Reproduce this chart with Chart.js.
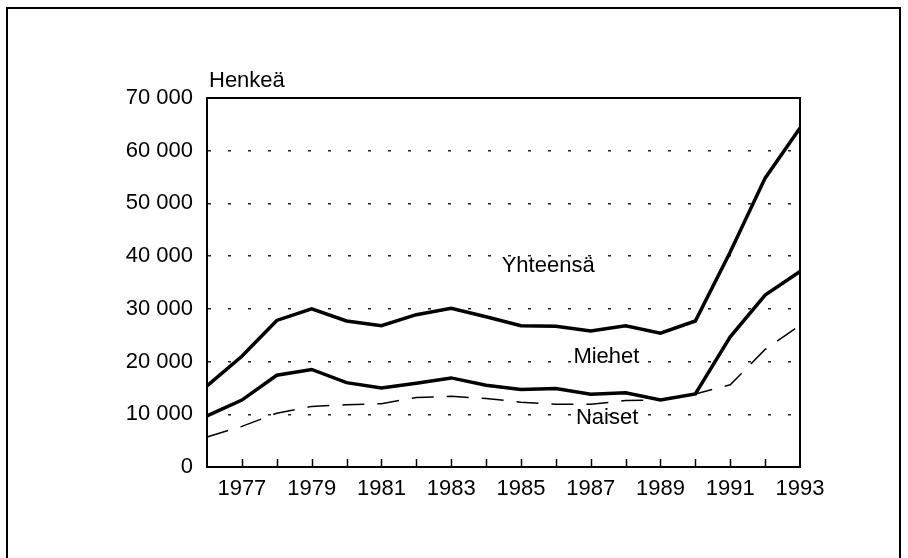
<!DOCTYPE html>
<html>
<head>
<meta charset="utf-8">
<script src="https://cdn.jsdelivr.net/npm/chart.js@4"></script>
<style>
  html, body { margin: 0; padding: 0; background: #fff; }
  #wrap { width: 908px; height: 558px; }
</style>
</head>
<body>
<div id="wrap"><canvas id="tyottomat"></canvas></div>
<script>
var years = ['1976', '1977', '1978', '1979', '1980', '1981', '1982', '1983', '1984',
             '1985', '1986', '1987', '1988', '1989', '1990', '1991', '1992', '1993'];
var yhteensa = [15400, 21000, 27800, 30000, 27700, 26800, 28900, 30100, 28500,
                26800, 26700, 25800, 26800, 25400, 27700, 40800, 54800, 64300];
var miehet = [9700, 12700, 17400, 18500, 16000, 15000, 15900, 16900, 15500,
              14700, 14900, 13800, 14100, 12700, 13850, 24700, 32600, 37100];
var naiset = [5700, 7700, 10200, 11500, 11800, 12000, 13200, 13400, 13000,
              12300, 11900, 11900, 12600, 12700, 13850, 15600, 22300, 26900];
var yTicks = [0, 10000, 20000, 30000, 40000, 50000, 60000, 70000];

// series names written into the plot, at [year index, value]
var seriesNames = ['Yhteensä', 'Miehet', 'Naiset'];
var namePos = [[9.78, 38100], [11.45, 20900], [11.47, 9300]];

var FONT = "'Liberation Sans', Arial, sans-serif";

function fmt(v) {
  return String(v).replace(/\B(?=(\d{3})+(?!\d))/g, ' ');
}

var decor = {
  id: 'decor',
  beforeDraw: function(chart) {
    var c = chart.ctx;
    c.save();
    c.strokeStyle = '#000';
    c.lineWidth = 2;
    c.strokeRect(7, 8, 893, 620);
    c.restore();
  },
  afterDraw: function(chart) {
    var c = chart.ctx, a = chart.chartArea, xs = chart.scales.x, ys = chart.scales.y;
    c.save();
    // top and right frame of the plot
    c.strokeStyle = '#000';
    c.lineWidth = 2;
    c.beginPath();
    c.moveTo(a.left, a.top);
    c.lineTo(a.right, a.top);
    c.lineTo(a.right, a.bottom);
    c.stroke();
    // small inward ticks on the year axis
    c.lineWidth = 1.5;
    for (var i = 1; i < years.length - 1; i++) {
      var px = Math.round(xs.getPixelForValue(i)) + 0.5;
      c.beginPath();
      c.moveTo(px, a.bottom);
      c.lineTo(px, a.bottom - 8);
      c.stroke();
    }
    c.fillStyle = '#000';
    c.font = '22px ' + FONT;
    c.textBaseline = 'middle';
    c.textAlign = 'left';
    c.fillText('Henkeä', a.left + 2, a.top - 17);
    c.textAlign = 'center';
    for (var k = 0; k < seriesNames.length; k++) {
      c.fillText(seriesNames[k], xs.getPixelForValue(namePos[k][0]), ys.getPixelForValue(namePos[k][1]));
    }
    c.restore();
  }
};

new Chart(document.getElementById('tyottomat').getContext('2d'), {
  type: 'line',
  data: {
    labels: years,
    datasets: [
      { label: 'Yhteensä', data: yhteensa, borderColor: '#000', borderWidth: 3.5,
        pointRadius: 0, tension: 0, fill: false },
      { label: 'Miehet', data: miehet, borderColor: '#000', borderWidth: 3.5,
        pointRadius: 0, tension: 0, fill: false },
      { label: 'Naiset', data: naiset, borderColor: '#000', borderWidth: 1.5,
        borderDash: [22, 13], pointRadius: 0, tension: 0, fill: false }
    ]
  },
  options: {
    responsive: true,
    maintainAspectRatio: false,
    animation: false,
    layout: { padding: { left: 0, top: 98, right: 108, bottom: 0 } },
    plugins: { legend: { display: false }, tooltip: { enabled: false } },
    scales: {
      x: {
        type: 'category',
        offset: false,
        afterFit: function(s) { s.height = 91; },
        grid: { display: false, drawTicks: false },
        border: { display: true, color: '#000', width: 2 },
        ticks: {
          autoSkip: false,
          maxRotation: 0,
          padding: 9,
          color: '#000',
          font: { family: FONT, size: 22 },
          callback: function(v, i) { return (i % 2 === 1) ? years[i] : ''; }
        }
      },
      y: {
        min: 0,
        max: 70000,
        afterFit: function(s) { s.width = 207; },
        afterBuildTicks: function(s) { s.ticks = yTicks.map(function(v) { return { value: v }; }); },
        grid: {
          drawTicks: false,
          color: function(ctx) {
            var v = ctx.tick ? ctx.tick.value : 0;
            return (v === 0 || v === 70000) ? 'rgba(0,0,0,0)' : '#222';
          },
          lineWidth: 1.5,
          tickBorderDash: [3, 17]
        },
        border: { display: true, color: '#000', width: 2, dash: [3, 17] },
        ticks: {
          padding: 14,
          color: '#000',
          font: { family: FONT, size: 22 },
          callback: function(v) { return fmt(v); }
        }
      }
    }
  },
  plugins: [decor]
});
</script>
</body>
</html>
